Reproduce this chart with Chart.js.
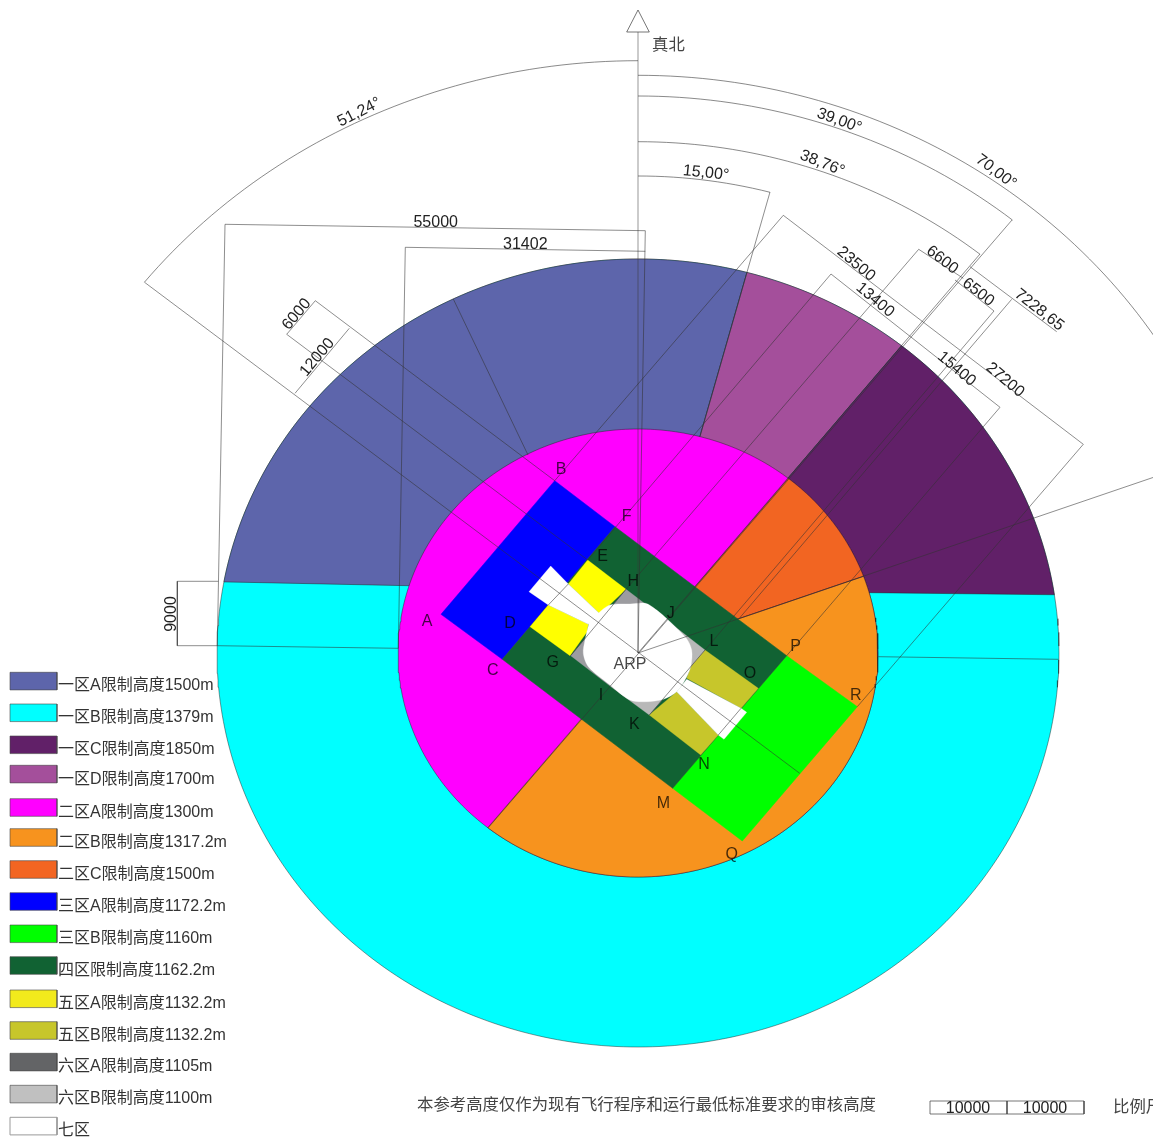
<!DOCTYPE html>
<html>
<head>
<meta charset="utf-8">
<title>限制高度</title>
<script src="https://cdn.jsdelivr.net/npm/chart.js@4"></script>
<style>
  html, body { margin: 0; padding: 0; background: #fff; overflow: hidden; }
  canvas { display: block; }
</style>
</head>
<body>
<canvas id="chart" width="1153" height="1138"></canvas>
<script>
// reference point and the two ring radii (it is stretched sideways)
const arp = [638, 653];
const outerRing = [421, 394];
const innerRing = [240, 224];
const stretch = 1.0686;

// bearings from true north
const bearingAD = 15, bearingDC = 38.76, bearingCB = 70;
const outerLeftEnd = -79.6, outerRightEnd = 81.5;
const angleArcs = [
  [-51.24, 0, 592.3],
  [0, 70, 577.7],
  [0, 39, 557],
  [0, 38.76, 511.3],
  [0, 15, 477]
];

// polygon corners
const zone3A = [[554.7,480.7],[615,526.7],[502.3,659.3],[441,614.3]];
const zone3B = [[786.7,655.7],[857.3,706.7],[742.3,841],[672.7,788.3]];
const zone4 = [[615,526.7],[786.7,655.7],[672.7,788.3],[502.3,659.3]];
const zone5ATop = [[587.7,560],[626,589.3],[600,614],[568.3,584]];
const zone5ALow = [[530,626.7],[548.3,605],[588.3,624.3],[587,632],[570,655.7]];
const zone5BTop = [[705,650],[758.3,688.3],[741,708.3],[686.7,678.3],[693,660]];
const zone5BLow = [[676.7,691.7],[718.3,735],[700.7,755],[649.3,715]];
const zone6A = [[626,589.3],[665,619],[610,686],[570.7,655.7]];
const zone6B = [[665,619],[705,650],[649.3,715],[610,686]];
const zone7Core = [[589,623.3],[598.3,613.3],[610,605],[630,604],[648.3,604.3],[685,636.7],[691.7,650],[690.7,666.7],[685,680],[676.7,691.7],[663.3,699.3],[646.7,701.7],[630,700],[610,685],[588.3,666.7],[583.3,653.3],[585,640]];
const zone7West = [[550.7,566],[529,591.7],[548.3,605],[588.3,624.3],[600,614],[568.3,584]];
const zone7East = [[746.7,712.3],[724,739.3],[718.3,735],[676.7,691.7],[686.7,679.3],[741,708.3]];
const northArrow = [[638,10],[649.3,32],[626.7,32]];

// thin construction and dimension lines
const northLine = [[638,32],[638,653]];
const dimLines = [
  [[144.4,282.2],[799.7,773.3]],
  [[1217.8,455.4],[638,653]],
  [[1012,220],[488.3,827.7]],
  [[980,254],[638,653]],
  [[770,192],[700,436]],
  [[225,224.3],[645.3,230.7]],
  [[645.3,230.7],[638,653]],
  [[405.3,247.3],[645.3,251.3]],
  [[225,224.3],[217.3,645.7]],
  [[405.3,247.3],[398.3,648.3]],
  [[217.3,645.7],[398.3,648.3]],
  [[878.3,656.7],[1058.3,659.3]],
  [[218.3,581.3],[177.3,581.3]],
  [[177.3,581.3],[177.3,645.7]],
  [[177.3,645.7],[217.3,645.7]],
  [[315.3,300.7],[554.7,480.7]],
  [[286.7,334.3],[587.7,560]],
  [[315.3,300.7],[286.7,334.3]],
  [[349.3,328.3],[295,393.3]],
  [[453.3,299],[528,455]],
  [[783.3,215.3],[554.7,480.7]],
  [[783.3,215.3],[1083.3,444.3]],
  [[1083.3,444.3],[857.3,706.7]],
  [[918.7,249.3],[626,589.3]],
  [[918.7,249.3],[963.3,278.3]],
  [[831,274],[587.7,560]],
  [[831,274],[1000,407.3]],
  [[1000,407.3],[786.7,655.7]],
  [[955,280],[994,311]],
  [[994,311],[705,650]],
  [[970,266.7],[1056.7,331.7]],
  [[1011.7,299.3],[739.3,618.3]],
  [[626,589.3],[570.7,655.7]],
  [[705,650],[649.3,715]],
  [[568.3,584],[548.3,605]],
  [[741,708.3],[718.3,735]]
];

// scale bar
const scaleBar = [[930,1101],[1084,1101],[1084,1114],[930,1114],[930,1101]];
const scaleTick = [[1007,1101],[1007,1114]];

// legend
const legendNames = ['一区A限制高度1500m','一区B限制高度1379m','一区C限制高度1850m','一区D限制高度1700m','二区A限制高度1300m','二区B限制高度1317.2m','二区C限制高度1500m','三区A限制高度1172.2m','三区B限制高度1160m','四区限制高度1162.2m','五区A限制高度1132.2m','五区B限制高度1132.2m','六区A限制高度1105m','六区B限制高度1100m','七区'];
const legendColors = ['#5d65ab','#00ffff','#612068','#a44f9b','#ff00ff','#f7931e','#f26522','#0000ff','#00ff00','#116233','#f2ea1c','#c7c62b','#636466','#c0c0c0','#ffffff'];
const legendBoxTop = [672.3,704,736,765.3,798.7,828.7,860.7,892.7,925,956.7,990,1021.7,1053.3,1085.3,1117.3];
const legendTextY = [686,717.7,749.3,779.3,812.7,842.7,874.3,906.7,938.3,970.3,1003.3,1035.3,1066.7,1098.7,1130.5];

// letters on the zones
const markLetters = ['A','B','C','D','E','F','G','H','I','J','K','L','M','N','O','P','Q','R','ARP'];
const markX = [427,561,492.7,510,602.7,626.7,552.7,633.3,601,670.7,634.3,714,663.3,704,750,795.7,731.7,855.7,630];
const markY = [622,470,670.7,623.3,556.7,516.7,662.3,581.7,696,614,725,641.7,803.3,765,673.3,646.7,854.3,696,665];

// dimension texts: text, x, y, rotation
const dimTexts = [
  ['51,24°',359.3,112.3,-27],['55000',435.7,222.7,0],['31402',525.3,244.3,0],
  ['6000',296.7,314.3,-50],['12000',317.3,357.3,-50],['9000',171.7,614,-90],
  ['15,00°',706,173,6],['38,76°',822.3,163.3,22],['39,00°',839.3,120.7,20],['70,00°',996,171.7,37],
  ['23500',856,264,40],['13400',875,300,40],['6600',942.3,260,38],['6500',978.3,292.3,38],
  ['7228,65',1039.3,310,38],['15400',956.7,369,40],['27200',1005,380,40]
];
const noteTexts = [
  ['真北',652,43.3],
  ['本参考高度仅作为现有飞行程序和运行最低标准要求的审核高度',417,1104],
  ['比例尺',1113,1106]
];
const scaleTexts = [['10000',968,1109],['10000',1045,1109]];

function onEllipse(b, rx, ry) {
  const a = b * Math.PI / 180;
  return [arp[0] + rx * Math.sin(a), arp[1] - ry * Math.cos(a)];
}
function arc(from, to, rx, ry) {
  const pts = [];
  const n = Math.ceil(Math.abs(to - from));
  for (let i = 0; i <= n; i++) pts.push(onEllipse(from + (to - from) * i / n, rx, ry));
  return pts;
}
const outerArc = (a, b) => arc(a, b, outerRing[0], outerRing[1]);
const innerArc = (a, b) => arc(a, b, innerRing[0], innerRing[1]);

const toPoints = list => list.map(p => ({ x: p[0], y: p[1] }));
const edge = 'rgba(30,30,30,0.65)';

const datasets = [];
function addShape(label, corners, color, border, width, tension) {
  const pts = toPoints(corners);
  pts.push(pts[0]);
  datasets.push({
    label: label, data: pts, showLine: true, pointRadius: 0, tension: tension || 0,
    backgroundColor: color, borderColor: border || color, borderWidth: width === undefined ? 0.7 : width,
    fill: 'shape'
  });
}
function addLine(label, pts, color, width) {
  datasets.push({
    label: label, data: toPoints(pts), showLine: true, pointRadius: 0, tension: 0,
    borderColor: color, borderWidth: width || 1, fill: false
  });
}

// rings first, the later ones sit on top
addShape('一区B', outerArc(0, 360), legendColors[1], edge);
addShape('一区A', [...outerArc(outerLeftEnd, bearingAD), arp, [408.3,585.7]], legendColors[0], edge);
addShape('一区D', [...outerArc(bearingAD, bearingDC), arp], legendColors[3], edge);
addShape('一区C', [...outerArc(bearingDC, outerRightEnd), [870,592.7], arp], legendColors[2], edge);
addShape('二区A', innerArc(0, 360), legendColors[4], edge);
addShape('二区C', [...innerArc(bearingDC, bearingCB), arp], legendColors[6], edge);
addShape('二区B', [...innerArc(bearingCB, 180 + bearingDC), arp], legendColors[5], edge);
addShape('三区A', zone3A, legendColors[7], null, 0.5);
addShape('三区B', zone3B, legendColors[8], null, 0.5);
addShape('四区', zone4, legendColors[9], null, 0.5);
addShape('五区A', zone5ATop, '#ffff00', null, 0.3);
addShape('五区A', zone5ALow, '#ffff00', null, 0.3);
addShape('五区B', zone5BTop, legendColors[11], null, 0.3);
addShape('五区B', zone5BLow, legendColors[11], null, 0.3);
addShape('六区A', zone6A, '#9c9ca0', null, 0.3);
addShape('六区B', zone6B, '#b8b8b8', null, 0.3);
addShape('七区', zone7Core, '#ffffff', null, 0.3, 0.3);
addShape('七区', zone7West, '#ffffff', null, 0.3);
addShape('七区', zone7East, '#ffffff', null, 0.3);

angleArcs.forEach(a => addLine('角度', arc(a[0], a[1], a[2] * stretch, a[2]), 'rgba(60,60,60,0.6)'));
addLine('真北', northLine, 'rgba(60,60,60,0.35)', 1.5);
dimLines.forEach(l => addLine('尺寸', l, 'rgba(50,50,50,0.55)'));
addShape('真北', northArrow, '#ffffff', 'rgba(60,60,60,0.7)', 1);
addLine('比例', scaleBar, 'rgba(60,60,60,0.7)');
addLine('比例', scaleTick, 'rgba(60,60,60,0.7)');

legendColors.forEach((c, i) => {
  const t = legendBoxTop[i];
  const stroke = i === 14 ? '#9a9a9a' : 'rgba(70,70,70,0.6)';
  addShape(legendNames[i], [[10,t],[57,t],[57,t + 17.6],[10,t + 17.6]], c, stroke, 1);
});

// Chart.js paints the first dataset last, so number them the other way round
datasets.forEach((d, i) => { d.order = datasets.length - i; });

const textPlugin = {
  id: 'texts',
  afterDatasetsDraw(chart) {
    const { ctx, scales } = chart;
    const px = v => scales.x.getPixelForValue(v);
    const py = v => scales.y.getPixelForValue(v);
    ctx.save();
    ctx.font = '16px "Liberation Sans", "Noto Sans CJK SC"';
    ctx.textBaseline = 'middle';

    ctx.textAlign = 'left';
    ctx.fillStyle = '#333';
    legendNames.forEach((t, i) => ctx.fillText(t, px(58), py(legendTextY[i])));

    ctx.textAlign = 'center';
    ctx.fillStyle = 'rgba(0,0,0,0.72)';
    markLetters.forEach((t, i) => ctx.fillText(t, px(markX[i]), py(markY[i])));

    ctx.fillStyle = '#222';
    dimTexts.forEach(d => {
      ctx.save();
      ctx.translate(px(d[1]), py(d[2]));
      ctx.rotate(d[3] * Math.PI / 180);
      ctx.fillText(d[0], 0, 0);
      ctx.restore();
    });
    scaleTexts.forEach(d => ctx.fillText(d[0], px(d[1]), py(d[2])));

    ctx.textAlign = 'left';
    ctx.fillStyle = '#444';
    ctx.font = '16.4px "Noto Sans CJK SC"';
    noteTexts.forEach(d => ctx.fillText(d[0], px(d[1]), py(d[2])));
    ctx.restore();
  }
};

new Chart(document.getElementById('chart'), {
  type: 'scatter',
  data: { datasets: datasets },
  options: {
    responsive: false,
    animation: false,
    layout: { padding: 0 },
    plugins: { legend: { display: false }, tooltip: { enabled: false }, title: { display: false } },
    scales: {
      x: { type: 'linear', display: false, min: 0, max: 1153 },
      y: { type: 'linear', display: false, min: 0, max: 1138, reverse: true }
    }
  },
  plugins: [textPlugin]
});
</script>
</body>
</html>
